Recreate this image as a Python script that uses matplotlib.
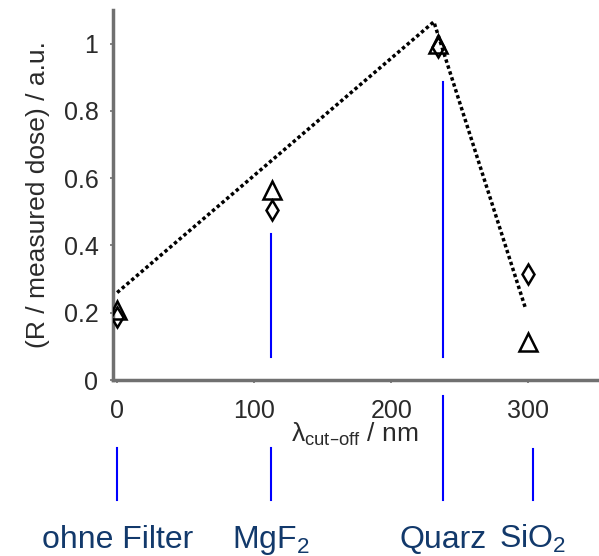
import matplotlib
matplotlib.use('Agg')
import matplotlib.pyplot as plt
from matplotlib.transforms import blended_transform_factory

plt.rcParams['font.family'] = ['Liberation Sans', 'DejaVu Sans']
plt.rcParams['mathtext.default'] = 'regular'

# Messwerte: relative Dosis je Filter-Grenzwellenlaenge
x_tri = [0, 113, 234, 300]
y_tri = [0.208, 0.565, 1.0, 0.113]
x_dia = [0, 113, 234, 300]
y_dia = [0.188, 0.505, 0.99, 0.315]

# gepunktete Trendlinie
x_trend = [0, 231, 298]
y_trend = [0.26, 1.065, 0.211]

# Filter und ihre Grenzwellenlaengen
filters = ['ohne Filter', 'MgF$_2$', 'Quarz', 'SiO$_2$']
cutoff = [0, 112, 238, 303]
# blaue Markierungsstriche (Ober-/Unterkante in Datenkoordinaten)
inner_top = [None, 0.435, 0.887, None]
outer_top = [-0.202, -0.202, -0.048, -0.205]

spine_col = '#707070'
text_col = '#2a2a2a'
label_col = '#12396b'

fig = plt.figure(figsize=(5.99, 5.56), dpi=100)
ax = fig.add_axes([0.1887, 0.3165, 0.808, 0.6655])

ax.plot(x_trend, y_trend, color='black', lw=2.5, ls=(0, (1, 0.8)), zorder=2)
ax.plot(x_tri, y_tri, ls='none', marker='^', ms=13, mfc='none', mec='black', mew=1.8, zorder=3)
ax.plot(x_dia, y_dia, ls='none', marker='d', ms=10, mfc='none', mec='black', mew=1.8, zorder=3)

ax.set_xlim(-3, 350)
ax.set_ylim(0, 1.1)
ax.set_xticks([0, 100, 200, 300])
ax.set_yticks([0, 0.2, 0.4, 0.6, 0.8, 1.0])
ax.set_yticklabels(['0', '0.2', '0.4', '0.6', '0.8', '1'])

for s in ['top', 'right']:
    ax.spines[s].set_visible(False)
for s in ['left', 'bottom']:
    ax.spines[s].set_color(spine_col)
    ax.spines[s].set_linewidth(2.5)
ax.tick_params(direction='out', length=2.5, width=1.2, color=spine_col,
               labelsize=18, labelcolor=text_col, pad=8)
ax.tick_params(axis='x', pad=11)

ax.set_ylabel('(R / measured dose) / a.u.', fontsize=19, color=text_col, labelpad=10)
ax.set_xlabel('λ$_{cut–off}$ / nm', fontsize=19, color=text_col)
ax.xaxis.set_label_coords(0.5, -0.11)

# blaue Striche und Filterbeschriftung
for x, it, ot in zip(cutoff, inner_top, outer_top):
    if it is not None:
        ax.plot([x, x], [0.068, it], color='blue', lw=1.5, clip_on=False, zorder=1)
    ax.plot([x, x], [ot, -0.357], color='blue', lw=1.5, clip_on=False, zorder=1)

trans = blended_transform_factory(ax.transData, fig.transFigure)
for x, name in zip(cutoff, filters):
    ax.text(x, 0.014, name, transform=trans, ha='center', va='baseline',
            fontsize=23, color=label_col)

fig.savefig('out.png', dpi=100)
